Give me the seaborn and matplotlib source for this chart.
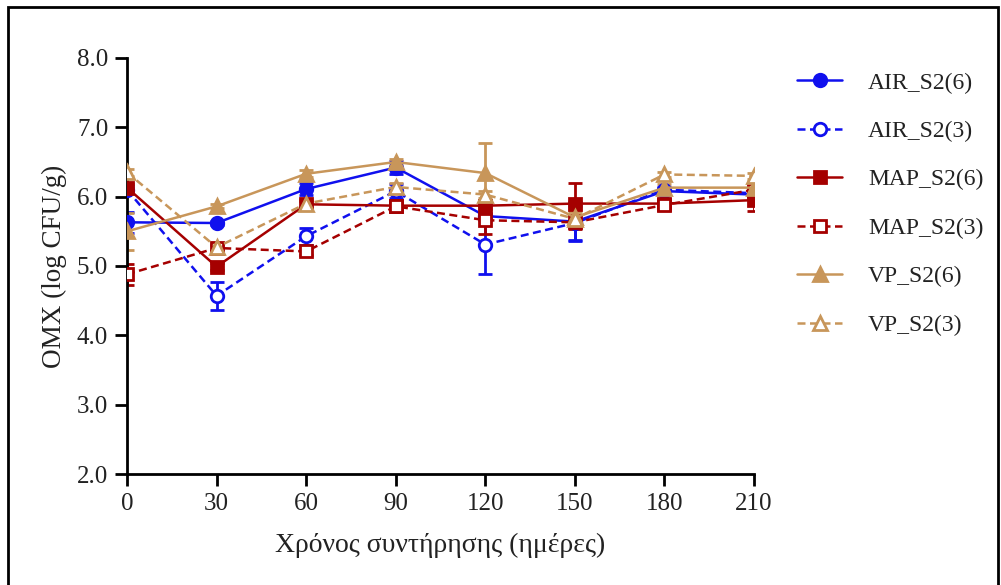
import numpy as np
import pandas as pd
import matplotlib
matplotlib.use("Agg")
import matplotlib.pyplot as plt
from matplotlib.patches import Rectangle
import seaborn as sns

days = [0, 30, 60, 90, 120, 150, 180, 210]
x_ticks = [0, 30, 60, 90, 120, 150, 180, 210]
y_ticks = [2.0, 3.0, 4.0, 5.0, 6.0, 7.0, 8.0]

air6 = [5.63, 5.62, 6.11, 6.42, 5.72, 5.64, 6.08, 6.03]
air6_err = [0.15, 0.03, 0.08, 0.10, 0.05, 0.28, 0.04, 0.04]
air3 = [6.10, 4.57, 5.43, 6.08, 5.31, 5.62, 6.10, 6.05]
air3_err = [0.05, 0.20, 0.12, 0.10, 0.42, 0.25, 0.04, 0.04]
map6 = [6.13, 4.99, 5.89, 5.87, 5.87, 5.90, 5.90, 5.95]
map6_err = [0.05, 0.05, 0.05, 0.05, 0.05, 0.30, 0.05, 0.15]
map3 = [4.88, 5.26, 5.21, 5.86, 5.66, 5.63, 5.88, 6.10]
map3_err = [0.15, 0.05, 0.05, 0.05, 0.20, 0.10, 0.04, 0.05]
vp6 = [5.50, 5.86, 6.33, 6.50, 6.34, 5.70, 6.13, 6.13]
vp6_err = [0.27, 0.03, 0.05, 0.04, 0.43, 0.12, 0.05, 0.05]
vp3 = [6.35, 5.27, 5.90, 6.14, 6.03, 5.68, 6.32, 6.30]
vp3_err = [0.05, 0.05, 0.05, 0.05, 0.05, 0.10, 0.04, 0.04]

labels = ["AIR_S2(6)", "AIR_S2(3)", "MAP_S2(6)", "MAP_S2(3)", "VP_S2(6)", "VP_S2(3)"]
values = [air6, air3, map6, map3, vp6, vp3]
errors = [air6_err, air3_err, map6_err, map3_err, vp6_err, vp3_err]

BLUE = "#1010EE"
RED = "#A50000"
TAN = "#C8965A"
DASH = (0, (3.2, 1.8))
styles = [
    dict(color=BLUE, ls="-", marker="o", filled=True),
    dict(color=BLUE, ls=DASH, marker="o", filled=False),
    dict(color=RED, ls="-", marker="s", filled=True),
    dict(color=RED, ls=DASH, marker="s", filled=False),
    dict(color=TAN, ls="-", marker="^", filled=True),
    dict(color=TAN, ls=DASH, marker="^", filled=False),
]

sns.set_style("ticks")
plt.rcParams["font.family"] = ["Liberation Serif", "DejaVu Serif"]

fig = plt.figure(figsize=(10.01, 5.85), dpi=100)
ax = fig.add_axes([0.1269, 0.1897, 0.6264, 0.7112])

for lab, val, err, st in zip(labels, values, errors, styles):
    df = pd.DataFrame({"day": days, "val": val})
    ax.errorbar(days, val, yerr=err, fmt="none", ecolor=st["color"],
                elinewidth=2, capsize=5, capthick=2, zorder=2)
    sns.lineplot(data=df, x="day", y="val", ax=ax, color=st["color"],
                 linestyle=st["ls"], linewidth=1.8, marker=st["marker"],
                 markersize=9 if st["marker"] != "^" else 9.5,
                 markerfacecolor=st["color"] if st["filled"] else "white",
                 markeredgecolor=st["color"], markeredgewidth=2,
                 label=lab, zorder=3)

handles, labs = ax.get_legend_handles_labels()
if ax.get_legend() is not None:
    ax.get_legend().remove()

ax.set_xlim(0, 210)
ax.set_ylim(2.0, 8.0)
ax.set_xticks(x_ticks)
ax.set_xticklabels([str(t) for t in x_ticks])
ax.set_yticks(y_ticks)
ax.set_yticklabels([f"{t:.1f}" for t in y_ticks])
ax.tick_params(axis="both", direction="out", length=8.6, width=2,
               labelsize=18, color="black", labelcolor="#222222", pad=5)
for s in ["left", "bottom"]:
    ax.spines[s].set_linewidth(2)
    ax.spines[s].set_color("black")
ax.spines["top"].set_visible(False)
ax.spines["right"].set_visible(False)
for sp in ax.spines.values():
    sp.set_clip_on(False)

ax.set_xlabel("Χρόνος συντήρησης (ημέρες)", fontsize=20, color="#222222", labelpad=13)
ax.set_ylabel("OMX (log CFU/g)", fontsize=19.5, color="#222222", labelpad=7)

leg = fig.legend(handles, labs, loc="upper left", bbox_to_anchor=(0.787, 0.893),
                 frameon=False, fontsize=17, handlelength=1.9, handletextpad=1.1,
                 labelspacing=1.14, borderaxespad=0)
for t in leg.get_texts():
    t.set_color("#222222")

fig.patches.append(Rectangle((8 / 1001, -0.05), (998 - 8) / 1001, 1.05 - 7 / 585,
                             transform=fig.transFigure, fill=False,
                             edgecolor="black", linewidth=2))

fig.savefig("out.png", dpi=100)
